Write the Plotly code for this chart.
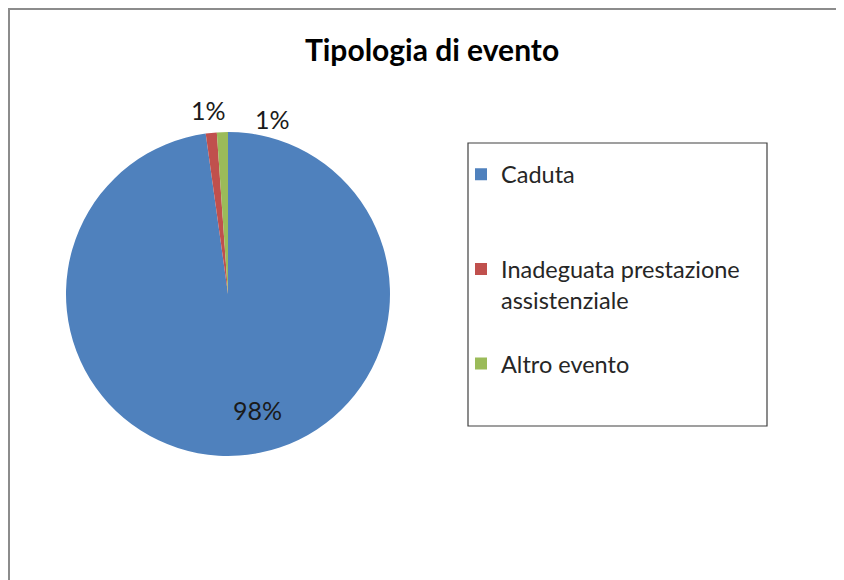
import plotly.graph_objects as go

# Data
categories = ["Caduta", "Inadeguata prestazione<br>assistenziale", "Altro evento"]
values = [97.8, 1.1, 1.1]
colors = ["#4F81BD", "#C0504D", "#9BBB59"]
# legend labels padded with blank lines to reproduce Excel's spaced legend
legend_labels = ["Caduta<br> <br> ", "Inadeguata prestazione<br>assistenziale<br> ", "Altro evento"]
total = sum(values)
pct_labels = [f"{round(v / total * 100)}%" for v in values]

# page body has an 8px margin -> figure drawn at (8, 8); use coordinates relative to that
W, H = 836, 572
FONT = "Lato"


def px(x):
    return (x - 8) / W


def py(y):
    return 1 - (y - 8) / H


fig = go.Figure(go.Pie(
    labels=legend_labels,
    values=values,
    sort=False,
    direction="clockwise",
    rotation=0,
    marker=dict(colors=colors, line=dict(width=0)),
    textinfo="none",
    domain=dict(x=[px(66), px(390)], y=[py(456), py(132)]),
    hoverinfo="label+percent",
))

# data labels (Excel-style placement)
label_pos = [(257, 410), (208, 110), (272, 119)]
annotations = []
for txt, (lx, ly) in zip(pct_labels, label_pos):
    annotations.append(dict(text=txt, x=px(lx), y=py(ly), xref="paper", yref="paper",
                            xanchor="center", yanchor="middle", showarrow=False,
                            font=dict(family=FONT, size=25, color="#1a1a1a")))

fig.update_layout(
    width=W, height=H,
    margin=dict(l=0, r=0, t=0, b=0),
    paper_bgcolor="white",
    plot_bgcolor="white",
    title=dict(text="<b>Tipologia di evento</b>", x=px(432), xanchor="center",
               y=py(50), yanchor="middle", yref="container",
               font=dict(family=FONT, size=30, color="#000000")),
    legend=dict(x=px(461), xanchor="left", y=py(152.5), yanchor="top",
                valign="top", borderwidth=0, bgcolor="rgba(0,0,0,0)",
                font=dict(family=FONT, size=23.5, color="#262626")),
    annotations=annotations,
    shapes=[
        # chart outer border (top and left visible)
        dict(type="line", xref="paper", yref="paper", x0=px(8), x1=1.02, y0=py(9), y1=py(9),
             line=dict(color="#8C8C8C", width=2)),
        dict(type="line", xref="paper", yref="paper", x0=px(9), x1=px(9), y0=py(9), y1=-0.02,
             line=dict(color="#8C8C8C", width=2)),
        # legend box
        dict(type="rect", xref="paper", yref="paper", x0=px(468), x1=px(767),
             y0=py(426), y1=py(143), line=dict(color="#404040", width=1.2)),
    ],
)

fig.write_html("out.html")
